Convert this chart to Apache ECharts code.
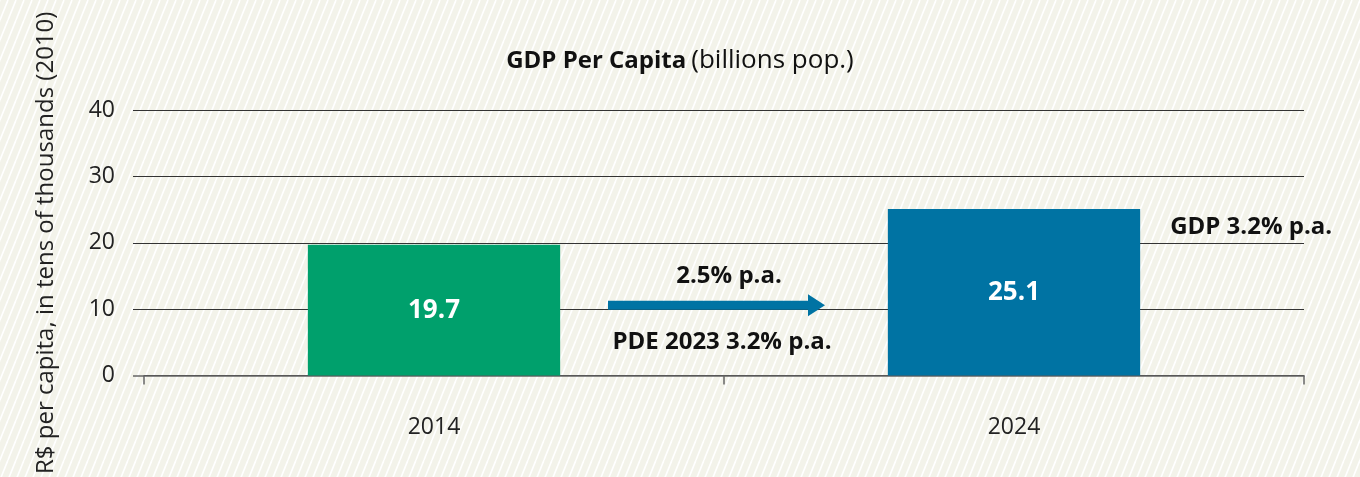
<!DOCTYPE html>
<html><head><meta charset="utf-8">
<script src="https://cdn.jsdelivr.net/npm/echarts@6/dist/echarts.min.js"></script>
<style>html,body{margin:0;padding:0;background:#f4f4ec}#c{width:1360px;height:477px}</style>
</head><body><div id="c"></div>
<script>
const categories = ['2014', '2024'];
const values = [19.7, 25.1];
const barColors = ['#00a06c', '#0073a3'];
const yTicks = [0, 10, 20, 30, 40];
const arrowValue = 10;
const annoTop = '2.5% p.a.';
const annoBottom = 'PDE 2023 3.2% p.a.';
const annoRight = 'GDP 3.2% p.a.';

// striped background pattern
const tile = document.createElement('canvas');
tile.width = 8; tile.height = 20;
const g = tile.getContext('2d');
g.fillStyle = '#f3f3ea'; g.fillRect(0, 0, 8, 20);
g.strokeStyle = '#ffffff'; g.lineWidth = 1.6;
for (const off of [-8, 0, 8]) {
  g.beginPath(); g.moveTo(off, 20); g.lineTo(off + 8, 0); g.stroke();
}

const font = '"Open Sans", "Noto Sans", sans-serif';
const chart = echarts.init(document.getElementById('c'));
chart.setOption({
  backgroundColor: { image: tile, repeat: 'repeat' },
  animation: false,
  title: {
    text: '{b|GDP Per Capita} {r|(billions pop.)}',
    left: 'center', top: 43,
    textStyle: { fontWeight: 'normal', rich: {
      b: { fontFamily: font, fontWeight: 'bold', fontSize: 24, color: '#111' },
      r: { fontFamily: font, fontWeight: 'normal', fontSize: 26, color: '#111' }
    } }
  },
  grid: { left: 144, right: 56, top: 110, bottom: 98 },
  xAxis: {
    type: 'category', data: categories,
    axisLine: { lineStyle: { color: '#666', width: 1.5 } },
    axisTick: { show: true, length: 9, lineStyle: { color: '#666', width: 1.5 } },
    axisLabel: { fontFamily: font, fontSize: 23, color: '#222', margin: 40 }
  },
  yAxis: {
    type: 'value', min: 0, max: 40, interval: 10,
    name: 'R$ per capita, in tens of thousands (2010)',
    nameLocation: 'middle', nameGap: 86, nameRotate: 90,
    nameTextStyle: { fontFamily: font, fontSize: 24, color: '#222' },
    axisLine: { show: false }, axisTick: { show: false },
    axisLabel: { fontFamily: font, fontSize: 23, color: '#222', margin: 29,
      formatter: v => yTicks.includes(v) ? String(v) : '' },
    splitLine: { lineStyle: { color: '#333', width: 1 } }
  },
  series: [{
    type: 'bar', barWidth: '43.5%',
    data: values.map((v, i) => ({ value: v, itemStyle: { color: barColors[i] } })),
    label: { show: true, position: 'inside', fontFamily: font, fontWeight: 'bold',
      fontSize: 26, color: '#fff' }
  }]
});

function drawAnnotations() {
  const p0 = chart.convertToPixel({ gridIndex: 0 }, [0, arrowValue]);
  const p1 = chart.convertToPixel({ gridIndex: 0 }, [1, arrowValue]);
  const pTop = chart.convertToPixel({ gridIndex: 0 }, [1, values[1]]);
  const y = p0[1] - 4;
  const mid = (p0[0] + p1[0]) / 2;
  const x0 = mid - 116, x1 = mid + 101;
  const bw = (p1[0] - p0[0]) * 0.435;
  const gridLeft = chart.convertToPixel({ xAxisIndex: 0 }, 0) - (p1[0] - p0[0]) / 2;
  const extras = yTicks.slice(1).map(t => {
    const yy = Math.round(chart.convertToPixel({ yAxisIndex: 0 }, t)) + 0.5;
    return { type: 'line', shape: { x1: gridLeft - 11, y1: yy, x2: gridLeft, y2: yy },
      style: { stroke: '#333', lineWidth: 1 } };
  });
  const y0 = Math.round(chart.convertToPixel({ yAxisIndex: 0 }, 0));
  extras.push({ type: 'line', shape: { x1: gridLeft - 11, y1: y0, x2: gridLeft, y2: y0 },
    style: { stroke: '#666', lineWidth: 1.5 } });
  chart.setOption({
    graphic: extras.concat([
      { type: 'rect', shape: { x: x0, y: y - 4.5, width: x1 - x0 - 16, height: 9 },
        style: { fill: '#0073a3' }, z: 10 },
      { type: 'polygon', shape: { points: [[x1 - 17, y - 11], [x1, y], [x1 - 17, y + 11]] },
        style: { fill: '#0073a3' }, z: 10 },
      { type: 'text', x: mid + 5, y: y - 29, style: { text: annoTop, fontFamily: font,
        fontWeight: 'bold', fontSize: 24, fill: '#111', align: 'center', verticalAlign: 'middle' }, z: 10 },
      { type: 'text', x: mid - 2, y: y + 37, style: { text: annoBottom, fontFamily: font,
        fontWeight: 'bold', fontSize: 24, fill: '#111', align: 'center', verticalAlign: 'middle' }, z: 10 },
      { type: 'text', x: p1[0] + bw / 2 + 30, y: pTop[1] + 18, style: { text: annoRight, fontFamily: font,
        fontWeight: 'bold', fontSize: 24, fill: '#111', align: 'left', verticalAlign: 'middle' }, z: 10 }
    ])
  });
}
drawAnnotations();
</script></body></html>
